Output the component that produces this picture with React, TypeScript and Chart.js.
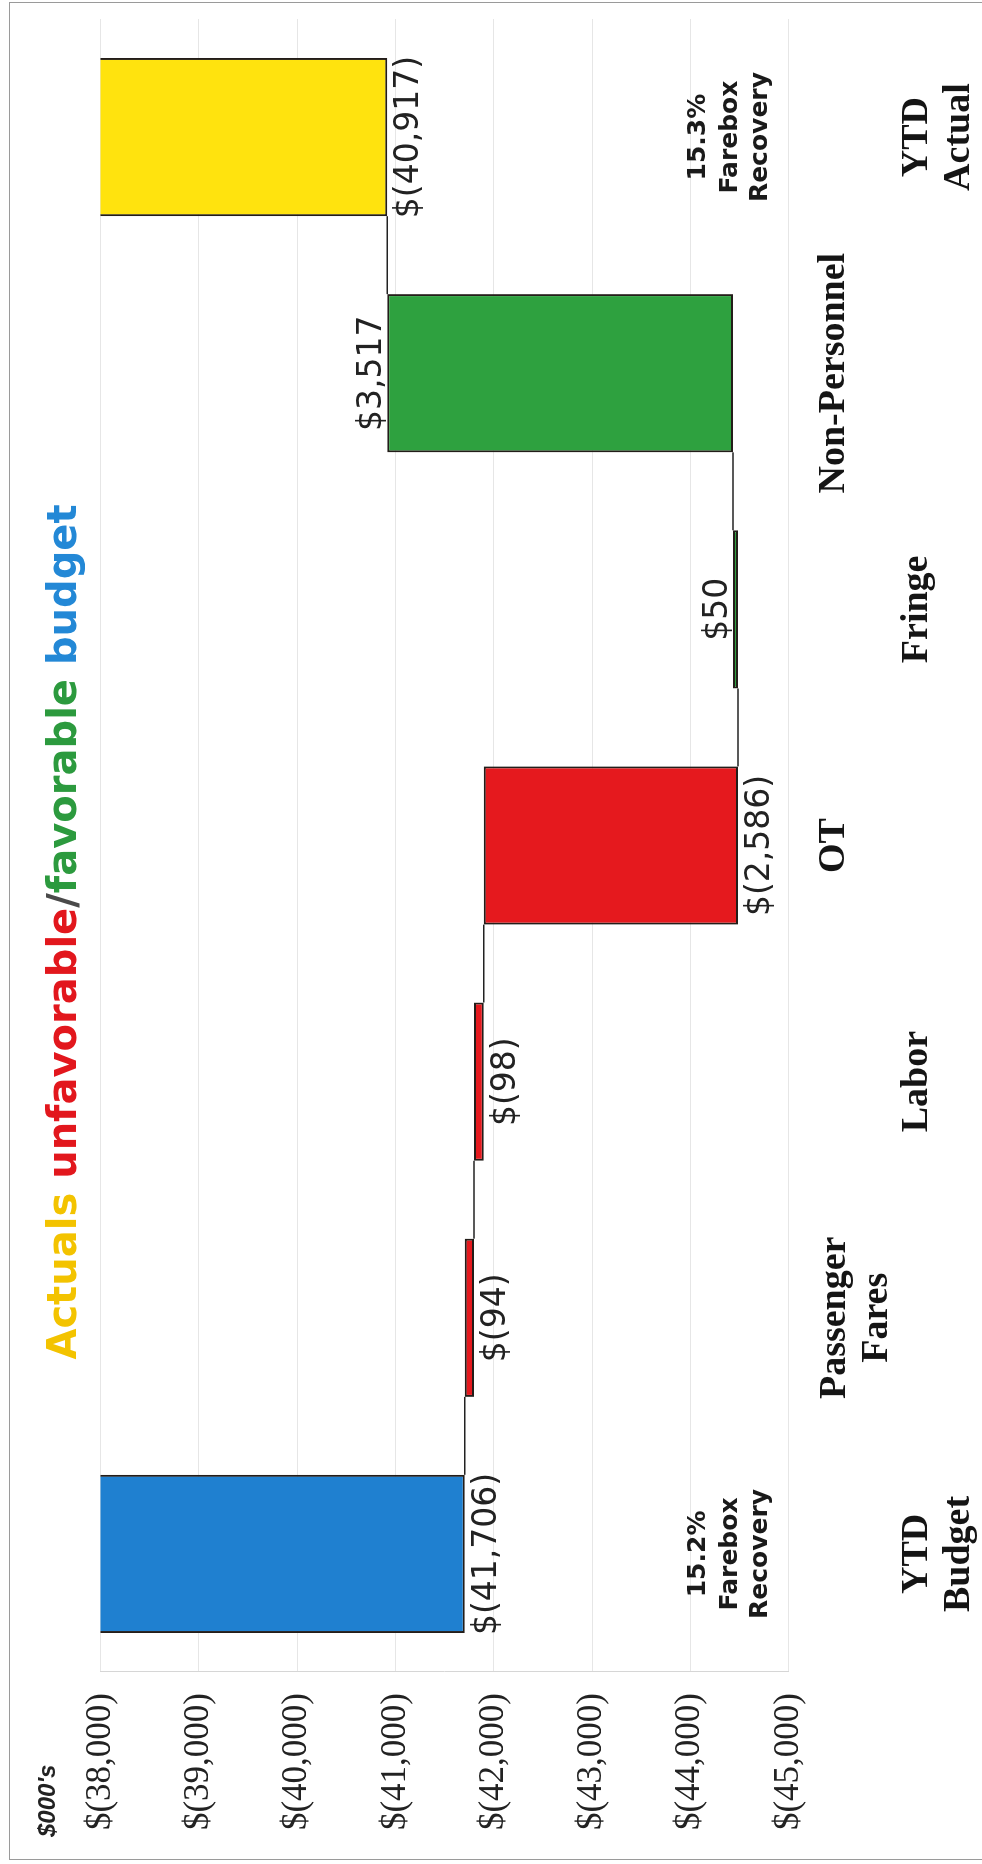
import React, { useEffect, useRef } from 'react';
import { Chart, registerables } from 'chart.js';

Chart.register(...registerables);

// ---------- data ----------
const categories = ['YTD Budget', 'Passenger Fares', 'Labor', 'OT', 'Fringe', 'Non-Personnel', 'YTD Actual'];
const categoryLines = [['YTD', 'Budget'], ['Passenger', 'Fares'], ['Labor'], ['OT'], ['Fringe'], ['Non-Personnel'], ['YTD', 'Actual']];
const variances = [-41706, -94, -98, -2586, 50, 3517, -40917];
const isTotal = [true, false, false, false, false, false, true];
const fareboxRecovery = [['15.2%', 'Farebox', 'Recovery'], [], [], [], [], [], ['15.3%', 'Farebox', 'Recovery']];
const yMin = -45000;
const yMax = -38000;
const yStep = 1000;
const unitLabel = "$000's";
const titleWords = ['Actuals ', 'unfavorable', '/', 'favorable', ' budget'];

// ---------- styles ----------
const titleColors = ['#F3C300', '#E2171D', '#4a4a4a', '#2C9A3E', '#2388D6'];
const budgetColor = '#1F80D0';
const actualColor = '#FFE30E';
const upColor = '#2EA13F';
const downColor = '#E5191E';
const SERIF = 'Liberation Serif';
// baselines of category label lines, measured below the bottom of the plot area
const labelRowOffsets = [[138, 180], [56, 98], [138], [55], [138], [55], [138, 180]];
const fareboxRowOffsets = [-84, -52, -22];

const W = 1864;
const H = 982;

function fmt(v: number): string {
  const s = Math.abs(v).toLocaleString('en-US');
  return v < 0 ? `$(${s})` : `$${s}`;
}

// floating bar ranges derived from the variances
const ranges: number[][] = [];
const ends: number[] = [];
{
  let running = 0;
  variances.forEach((v, i) => {
    if (isTotal[i]) {
      ranges.push([0, v]);
      running = v;
    } else {
      ranges.push([running, running + v]);
      running += v;
    }
    ends.push(running);
  });
}
const barColors = variances.map((v, i) =>
  isTotal[i] ? (i === 0 ? budgetColor : actualColor) : v < 0 ? downColor : upColor
);

const overlay = {
  id: 'overlay',
  afterDatasetsDraw(chart: any) {
    const ctx = chart.ctx as CanvasRenderingContext2D;
    const xs = chart.scales.x;
    const ys = chart.scales.y;
    const area = chart.chartArea;
    const meta = chart.getDatasetMeta(0);
    ctx.save();

    // connector lines
    ctx.strokeStyle = '#222';
    ctx.lineWidth = 1.5;
    for (let i = 0; i < meta.data.length - 1; i++) {
      const a = meta.data[i];
      const b = meta.data[i + 1];
      const py = ys.getPixelForValue(ends[i]);
      ctx.beginPath();
      ctx.moveTo(a.x + a.width / 2, py);
      ctx.lineTo(b.x - b.width / 2, py);
      ctx.stroke();
    }

    // value labels
    ctx.fillStyle = '#222';
    ctx.font = '33px "DejaVu Sans", sans-serif';
    ctx.textAlign = 'center';
    ctx.textBaseline = 'alphabetic';
    variances.forEach((v, i) => {
      const el = meta.data[i];
      const py = ys.getPixelForValue(ends[i]);
      const y = v < 0 ? py + 31 : py - 6;
      ctx.fillText(fmt(v), el.x, y);
    });

    // category labels
    ctx.fillStyle = '#151515';
    ctx.font = `bold 38px "${SERIF}", "Times New Roman", serif`;
    categoryLines.forEach((lines, i) => {
      const cx = xs.getPixelForValue(i);
      lines.forEach((t, j) => {
        ctx.fillText(t, cx, area.bottom + labelRowOffsets[i][j]);
      });
    });

    // farebox recovery notes
    ctx.fillStyle = '#1a1a1a';
    ctx.font = 'bold 25px "DejaVu Sans", sans-serif';
    fareboxRecovery.forEach((lines, i) => {
      const cx = xs.getPixelForValue(i);
      lines.forEach((t, j) => {
        ctx.fillText(t, cx, area.bottom + fareboxRowOffsets[j]);
      });
    });

    // title
    ctx.font = 'bold 40px "DejaVu Sans", sans-serif';
    ctx.textAlign = 'left';
    const widths = titleWords.map((t) => ctx.measureText(t).width);
    const total = widths.reduce((a, b) => a + b, 0);
    let tx = W / 2 - total / 2;
    titleWords.forEach((t, i) => {
      ctx.fillStyle = titleColors[i];
      ctx.fillText(t, tx, 76);
      tx += widths[i];
    });

    // unit label
    ctx.fillStyle = '#222';
    ctx.font = 'italic bold 24px "Liberation Sans", Arial, sans-serif';
    ctx.textAlign = 'left';
    ctx.fillText(unitLabel, 27, 55);

    ctx.restore();
  },
};

export default function App() {
  const ref = useRef<HTMLCanvasElement | null>(null);

  useEffect(() => {
    if (!ref.current) return;
    const chart = new Chart(ref.current, {
      type: 'bar',
      data: {
        labels: categories,
        datasets: [
          {
            data: ranges as any,
            backgroundColor: barColors,
            borderColor: '#231d19',
            borderWidth: 2,
            borderSkipped: false,
            barPercentage: 0.67,
            categoryPercentage: 1,
            clip: 0,
          } as any,
        ],
      },
      options: {
        responsive: false,
        animation: false,
        devicePixelRatio: 1,
        font: { family: SERIF },
        layout: { padding: { left: 0, right: 19, top: 100.5, bottom: 193.4 } },
        plugins: {
          legend: { display: false },
          tooltip: { enabled: false },
          title: { display: false },
        },
        scales: {
          x: {
            grid: { display: false },
            ticks: { display: false },
            border: { display: false },
            afterFit: (s: any) => {
              s.height = 0;
            },
          },
          y: {
            min: yMin,
            max: yMax,
            ticks: {
              stepSize: yStep,
              callback: (v: any) => fmt(Number(v)),
              font: { family: SERIF, size: 35, weight: 'normal' },
              color: '#222',
              padding: 21,
            },
            grid: { color: '#e6e6e6', lineWidth: 1, drawTicks: false },
            border: { display: true, color: '#d6d6d6', width: 1 },
            afterFit: (s: any) => {
              s.width = 192;
            },
          },
        },
      } as any,
      plugins: [overlay],
    });
    return () => chart.destroy();
  }, []);

  return (
    <div
      style={{
        position: 'absolute',
        left: 0,
        top: 0,
        width: 982,
        height: 1864,
        overflow: 'hidden',
        background: '#fff',
      }}
    >
      <div
        style={{
          position: 'absolute',
          left: 0,
          top: 0,
          width: W,
          height: H,
          transformOrigin: '0 0',
          transform: `translate(0px, ${W}px) rotate(-90deg)`,
        }}
      >
        <canvas ref={ref} width={W} height={H} style={{ display: 'block', width: W, height: H }} />
      </div>
      <div
        style={{
          position: 'absolute',
          left: 9,
          top: 2,
          width: 980,
          height: 1858,
          borderLeft: '1.5px solid #9a9a9a',
          borderTop: '1.5px solid #9a9a9a',
          borderBottom: '1.5px solid #9a9a9a',
          boxSizing: 'border-box',
          pointerEvents: 'none',
        }}
      />
    </div>
  );
}
